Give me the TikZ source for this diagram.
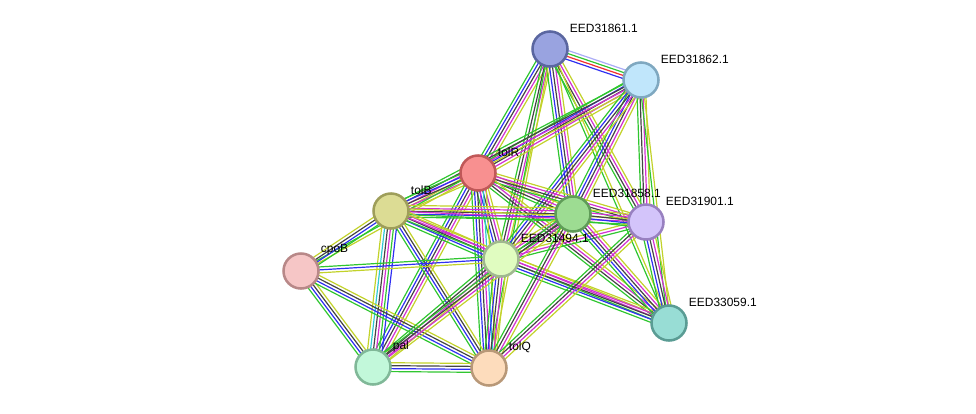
\documentclass[tikz,border=0pt]{standalone}
\usepackage{fontspec}
\setmainfont{Liberation Sans}
\usetikzlibrary{calc,backgrounds}

\definecolor{tgreen}{HTML}{2FC62F}
\definecolor{tblue}{HTML}{2F2FF2}
\definecolor{tblack}{HTML}{444444}
\definecolor{tmag}{HTML}{D22FD2}
\definecolor{tyel}{HTML}{C2D22A}
\definecolor{tcyan}{HTML}{2FC8D2}
\definecolor{tred}{HTML}{F22F2F}
\definecolor{thom}{HTML}{ABABF6}

\newcommand\lnkcount{0}
\newcommand\lnksep{2.1}
\newcommand{\lnk}[3]{%
    \foreach \c [count = \k] in {#3} {\xdef\lnkcount{\k}}%
    \foreach \c [count = \k] in {#3} {%
        \pgfmathsetmacro\off{(\k-(\lnkcount+1)/2)*\lnksep}%
        \draw [\c, wire] ($(#1)!\off pt!90:(#2)$) -- ($(#2)!\off pt!-90:(#1)$);
    }%
}

\begin{document}
\begin{tikzpicture}[x = 0.025cm, y = -0.025cm,
    wire/.style = {line width = 0.85pt},
    prot/.style = {shape = circle, draw, line width = 1.8pt, minimum size = 0.875cm, inner sep = 0pt},
    lbl/.style = {anchor = west, inner sep = 0pt, xshift = 0.16cm, yshift = 0.19cm, font = \fontsize{8.5}{10}\selectfont}]
    \useasboundingbox (0,0) rectangle (976,414);
    \node [prot, fill = {rgb,255:red,153;green,163;blue,224}, draw = {rgb,255:red,90;green,102;blue,160}, label = {[lbl]45:EED31861.1}] (n61) at (550,49) {};
    \node [prot, fill = {rgb,255:red,192;green,230;blue,251}, draw = {rgb,255:red,127;green,168;blue,192}, label = {[lbl]45:EED31862.1}] (n62) at (641,80) {};
    \node [prot, fill = {rgb,255:red,248;green,144;blue,144}, draw = {rgb,255:red,192;green,88;blue,88}, label = {[lbl]45:tolR}] (tolR) at (478,173) {};
    \node [prot, fill = {rgb,255:red,220;green,220;blue,148}, draw = {rgb,255:red,158;green,158;blue,90}, label = {[lbl]45:tolB}] (tolB) at (391,211) {};
    \node [prot, fill = {rgb,255:red,157;green,220;blue,146}, draw = {rgb,255:red,95;green,156;blue,88}, label = {[lbl]45:EED31858.1}] (n58) at (573,214) {};
    \node [prot, fill = {rgb,255:red,211;green,196;blue,250}, draw = {rgb,255:red,152;green,128;blue,192}, label = {[lbl]45:EED31901.1}] (n01) at (646,222) {};
    \node [prot, fill = {rgb,255:red,246;green,198;blue,198}, draw = {rgb,255:red,184;green,136;blue,136}, label = {[lbl]45:cpoB}] (cpoB) at (301,271) {};
    \node [prot, fill = {rgb,255:red,224;green,252;blue,192}, draw = {rgb,255:red,160;green,184;blue,144}, label = {[lbl]45:EED31494.1}] (n94) at (501,259) {};
    \node [prot, fill = {rgb,255:red,152;green,221;blue,213}, draw = {rgb,255:red,90;green,156;blue,148}, label = {[lbl]45:EED33059.1}] (n59) at (669,323) {};
    \node [prot, fill = {rgb,255:red,194;green,248;blue,218}, draw = {rgb,255:red,128;green,184;blue,152}, label = {[lbl]45:pal}] (pal) at (373,367) {};
    \node [prot, fill = {rgb,255:red,253;green,220;blue,188}, draw = {rgb,255:red,184;green,152;blue,120}, label = {[lbl]45:tolQ}] (tolQ) at (489,368) {};
    \begin{pgfonlayer}{background}
        \lnk{n61}{n62}{tblue,tred,tgreen,thom}
        \lnk{n61}{tolR}{tgreen,tblue,tblack,tmag,tyel}
        \lnk{n61}{n94}{tgreen,tblack,tmag,tyel}
        \lnk{n61}{n58}{tgreen,tblue,tblack,tmag,tyel}
        \lnk{n61}{n01}{tgreen,tblack,tmag,tyel}
        \lnk{n61}{n59}{tgreen,tyel}
        \lnk{n61}{tolQ}{tgreen,tyel}
        \lnk{n62}{tolR}{tgreen,tblue,tblack,tmag,tyel}
        \lnk{n62}{tolB}{tgreen,tblack,tmag,tyel}
        \lnk{n62}{n58}{tgreen,tblue,tblack,tmag,tyel}
        \lnk{n62}{n94}{tgreen,tblue,tblack,tmag,tyel}
        \lnk{n62}{n01}{tgreen,tblack,tmag,tyel}
        \lnk{n62}{n59}{tgreen,tyel}
        \lnk{tolR}{tolB}{tgreen,tblue,tblack,tmag,tyel}
        \lnk{tolR}{n58}{tgreen,tblack,tmag,tyel}
        \lnk{tolR}{n01}{tgreen,tblack,tmag,tyel}
        \lnk{tolR}{n94}{tgreen,tblue,tblack,tmag,tyel}
        \lnk{tolR}{cpoB}{tgreen,tyel}
        \lnk{tolR}{pal}{tgreen,tblue,tblack,tmag,tyel}
        \lnk{tolR}{tolQ}{tgreen,tblue,tblack,tmag,tcyan,tyel}
        \lnk{tolR}{n59}{tgreen,tblack,tmag,tyel}
        \lnk{tolB}{n58}{tgreen,tblue,tblack,tmag,tyel}
        \lnk{tolB}{n01}{tgreen,tmag,tyel}
        \lnk{tolB}{n94}{tgreen,tblue,tblack,tmag,tyel}
        \lnk{tolB}{pal}{tyel,tcyan,tblack,tmag,tgreen,tblue}
        \lnk{tolB}{tolQ}{tgreen,tblue,tblack,tyel}
        \lnk{tolB}{n59}{tgreen,tmag,tyel}
        \lnk{cpoB}{tolB}{tgreen,tblue,tblack,tyel}
        \lnk{cpoB}{n94}{tyel,tblue,tgreen}
        \lnk{cpoB}{pal}{tgreen,tblue,tblack,tyel}
        \lnk{cpoB}{tolQ}{tgreen,tblue,tblack,tyel}
        \lnk{n94}{n58}{tgreen,tblack,tmag,tyel}
        \lnk{n94}{n01}{tgreen,tmag,tyel}
        \lnk{n94}{n59}{tgreen,tblue,tblack,tmag,tyel}
        \lnk{n94}{pal}{tgreen,tblack,tmag,tyel}
        \lnk{n94}{tolQ}{tgreen,tblue,tblack,tmag,tyel}
        \lnk{n58}{n01}{tgreen,tblue,tblack,tmag,tyel}
        \lnk{n58}{n59}{tgreen,tblue,tblack,tmag,tyel}
        \lnk{n58}{pal}{tgreen,tblack,tmag,tyel}
        \lnk{n58}{tolQ}{tgreen,tblack,tmag,tyel}
        \lnk{n01}{n59}{tgreen,tblue,tblack,tmag,tyel}
        \lnk{n01}{tolQ}{tgreen,tblack,tmag,tyel}
        \lnk{pal}{tolQ}{tgreen,tblue,tblack,tyel}
    \end{pgfonlayer}
\end{tikzpicture}
\end{document}
